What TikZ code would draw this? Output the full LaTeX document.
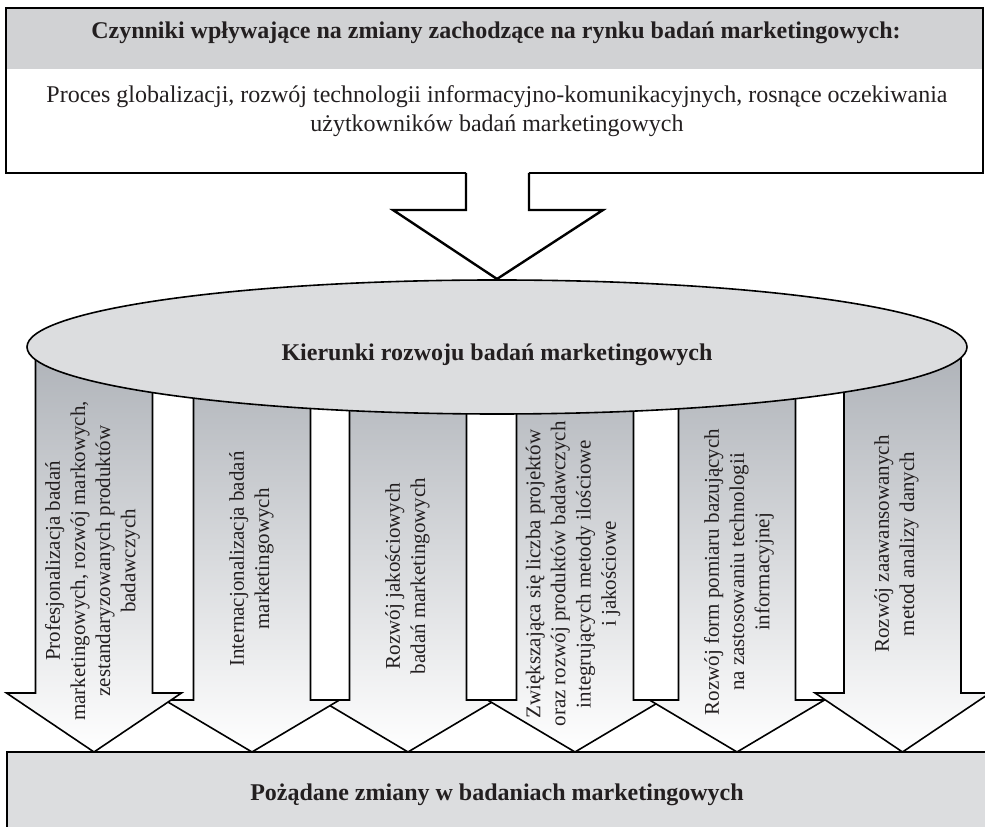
\documentclass[tikz,border=0pt]{standalone}
\usepackage{fontspec}
\setmainfont{Liberation Serif}
\usepackage{tikz}
\definecolor{bandgray}{RGB}{209,210,212}
\definecolor{ovalgray}{RGB}{220,221,223}
\definecolor{shaftgray}{RGB}{174,178,184}
\definecolor{inkgray}{RGB}{35,31,32}
\newcommand{\bigtxt}{\fontsize{24}{28.8}\selectfont}
\newcommand{\armtxt}{\fontsize{21}{25.2}\selectfont}

\begin{document}
\begin{tikzpicture}[x=1pt, y=1pt,
    frame/.style={draw=black, line width=2.4pt, line join=miter},
    thin/.style={draw=black, line width=1.6pt, line join=miter},
    armtext/.style={rotate=90, align=center, text=inkgray, font=\armtxt},
    boldtext/.style={text=inkgray, font=\bigtxt\bfseries}]
  \useasboundingbox (0,0) rectangle (985,827);
  \clip (0,0) rectangle (985,827);

  \coordinate (c) at (497,480);

  % top box with its arrow
  \fill[white] (6,819) rectangle (983,654);
  \fill[bandgray] (6,819) rectangle (983,758);
  \filldraw[frame, fill=white] (529,654) -- (529,617) -- (603,617) -- (497,548)
    -- (393,617) -- (466,617) -- (466,654);
  \draw[frame] (466,654) -- (6,654) -- (6,819) -- (983,819) -- (983,654) -- (529,654);
  \node[boldtext] (head) at (496,794) {Czynniki wpływające na zmiany zachodzące na rynku badań marketingowych:};
  \node[align=center, text=inkgray, font=\bigtxt] (causes) at (497,716)
    {Proces globalizacji, rozwój technologii informacyjno-komunikacyjnych, rosnące oczekiwania\\
     użytkowników badań marketingowych};

  % bottom box
  \filldraw[thin, fill=ovalgray] (7,75) rectangle (1000,-20);
  \node[boldtext] (goal) at (497,32) {Pożądane zmiany w badaniach marketingowych};

  % six arrows
  \foreach \cx/\wy in {408/127, 575/127, 252/127, 737/127, 94/134, 902.5/134}
    \draw[thin, top color=shaftgray, bottom color=white]
      (\cx-58.5,480) -- (\cx+58.5,480) -- (\cx+58.5,\wy) -- (\cx+87.5,\wy)
      -- (\cx,75) -- (\cx-87.5,\wy) -- (\cx-58.5,\wy) -- cycle;

  % oval
  \filldraw[thin, fill=ovalgray] (c) ellipse [x radius=470, y radius=67];
  \node[boldtext] (dirs) at ([yshift=-8]c) {Kierunki rozwoju badań marketingowych};

  \node[armtext] (d1) at (92.5,266) {Profesjonalizacja badań\\ marketingowych, rozwój markowych,\\ zestandaryzowanych produktów\\ badawczych};
  \node[armtext] (d2) at (251.5,268) {Internacjonalizacja badań\\ marketingowych};
  \node[armtext] (d3) at (407.5,251) {Rozwój jakościowych\\ badań marketingowych};
  \node[armtext] (d4) at (573,253) {Zwiększająca się liczba projektów\\ oraz rozwój produktów badawczych\\ integrujących metody ilościowe\\ i jakościowe};
  \node[armtext] (d5) at (739,255) {Rozwój form pomiaru bazujących\\ na zastosowaniu technologii\\ informacyjnej};
  \node[armtext] (d6) at (896.5,283) {Rozwój zaawansowanych\\ metod analizy danych};
\end{tikzpicture}
\end{document}
